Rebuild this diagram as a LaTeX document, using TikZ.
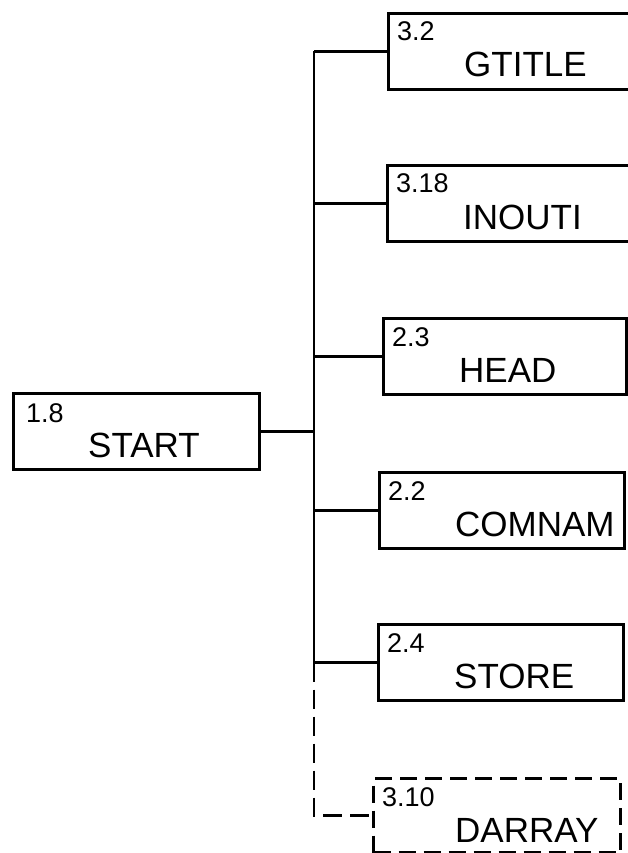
\documentclass[tikz,border=0pt]{standalone}
\usepackage{fontspec}
\setmainfont{Liberation Sans}
\usetikzlibrary{positioning,calc}

\begin{document}
\begin{tikzpicture}[x=1pt, y=-1pt,
        modbox/.style={rectangle, draw=black, line width=3pt, anchor=north west, minimum height=76pt, inner sep=0pt},
        optbox/.style={modbox, dash pattern=on 17pt off 8pt},
        numtext/.style={anchor=base west, inner sep=0pt, font=\fontsize{27}{29}\selectfont},
        nametext/.style={anchor=base west, inner sep=0pt, font=\fontsize{35}{38}\selectfont},
        wire/.style={line width=2.5pt},
        optwire/.style={wire, dash pattern=on 19pt off 8pt}
    ]

    \useasboundingbox (0,0) rectangle (627,853);

    % Calling routine
    \node[modbox, minimum width=246pt] (start) at (12,392) {};
    \node[numtext] (start-num) at ([shift={(14,30)}]start.north west) {1.8};
    \node[nametext] (start-name) at ([shift={(76,65)}]start.north west) {START};

    \coordinate (trunk) at (314,428);
    \draw[wire] (start.east) -- (start.east -| trunk);

    % Called routines
    \foreach \id/\num/\name/\l/\r/\t in {gtitle/3.2/GTITLE/387/640/12,
                                        inouti/3.18/INOUTI/386/640/164,
                                        head/2.3/HEAD/382/625/317,
                                        comnam/2.2/COMNAM/378/623/471,
                                        store/2.4/STORE/377/622/623} {
        \pgfmathsetmacro\w{\r-\l}
        \node[modbox, minimum width=\w pt] (\id) at (\l,\t) {};
        \node[numtext] (\id-num) at ([shift={(10,29)}]\id.north west) {\num};
        \node[nametext] (\id-name) at ([shift={(77,65)}]\id.north west) {\name};
        \draw[wire] (\id.west -| trunk) -- (\id.west);
    }

    % Optional routine
    \node[optbox, minimum width=247pt, minimum height=74pt] (darray) at (372,777) {};
    \node[numtext] (darray-num) at ([shift={(10,29)}]darray.north west) {3.10};
    \node[nametext] (darray-name) at ([shift={(83,65)}]darray.north west) {DARRAY};

    % Trunk
    \draw[wire] (trunk |- gtitle.west) -- (trunk |- store.west);
    \draw[optwire] (trunk |- store.west) -- (trunk |- darray.west) -- (darray.west);

\end{tikzpicture}
\end{document}
